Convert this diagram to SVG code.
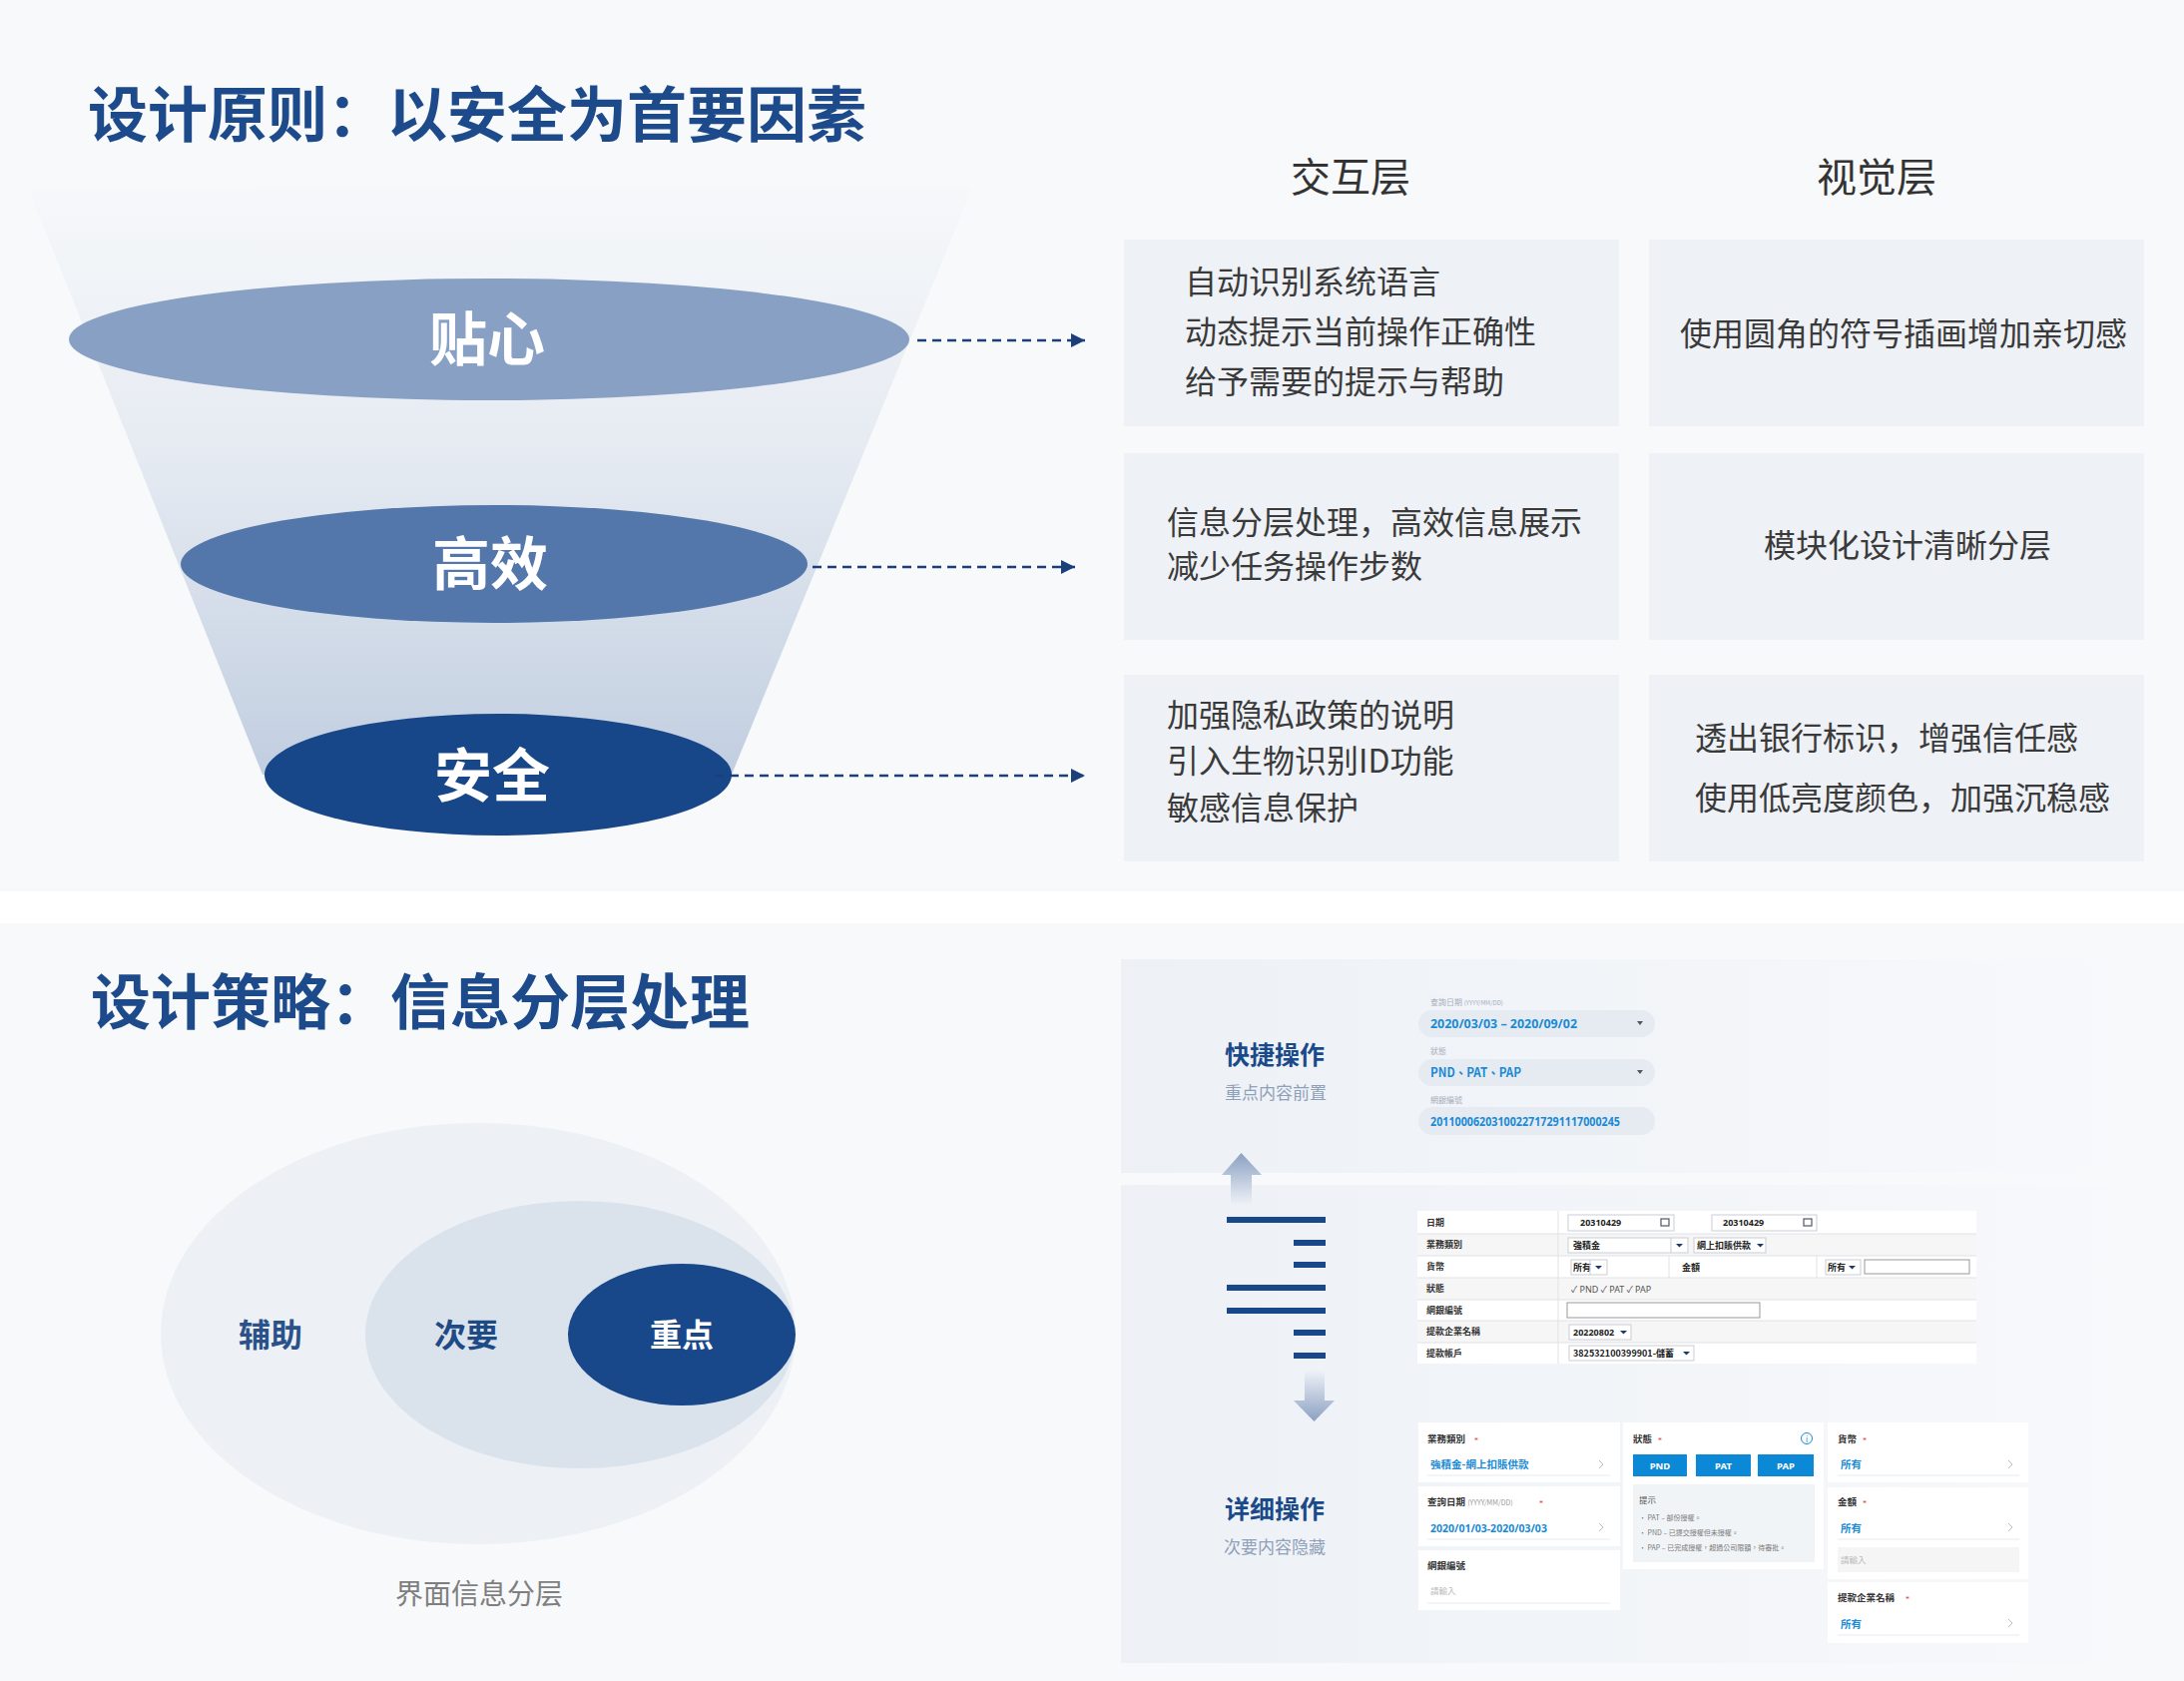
<svg xmlns="http://www.w3.org/2000/svg" width="2188" height="1684" viewBox="0 0 2188 1684">
<defs>
<style>
.cjk{font-family:'Noto Sans CJK SC','Noto Sans',sans-serif}
.tc{font-family:'Noto Sans CJK TC','Noto Sans',sans-serif}
.lat{font-family:'Noto Sans','Noto Sans CJK TC',sans-serif}
.title{font-size:60px;font-weight:700;fill:#1c4a8b}
.hdr{font-size:40px;fill:#333}
.bt{font-size:32px;fill:#3a3a3a}
.el{font-size:58px;font-weight:700;fill:#fff;text-anchor:middle}
.lab{font-size:32px;font-weight:700;text-anchor:middle}
.side1{font-size:25px;font-weight:700;fill:#1a4a8a;text-anchor:middle}
.side2{font-size:17px;fill:#8fa0b8;text-anchor:middle}
.flab{font-size:8px;fill:#a6aebb}
.fval{font-size:13px;font-weight:700;fill:#1a8ad4}
.tl{font-size:9px;font-weight:700;fill:#333}
.tv{font-size:9px;font-weight:700;fill:#222}
.cl{font-size:9.5px;font-weight:700;fill:#333}
.cv{font-size:10.5px;font-weight:700;fill:#1a8ad4}
.ph{font-size:8.5px;fill:#bbb}
.star{font-size:8px;fill:#e03030}
.chev{fill:none;stroke:#bbb;stroke-width:1}
.uline{stroke:#e6ebf1;stroke-width:1}
.card{fill:#fff}
.bar{fill:#18478a}
.dash{stroke:#1a3f7a;stroke-width:2.5;stroke-dasharray:9 6;fill:none}
.box{fill:#eef1f6}
.tri{fill:#1a3a6a}
.ibox{fill:#fff;stroke:#c9cdd3;stroke-width:1}
</style>
<linearGradient id="funnelG" gradientUnits="userSpaceOnUse" x1="0" y1="186" x2="0" y2="776">
<stop offset="0" stop-color="#f6f8fa"/>
<stop offset="0.45" stop-color="#e6ebf2"/>
<stop offset="1" stop-color="#c1cee0"/>
</linearGradient>
<linearGradient id="bandG" x1="0" y1="0" x2="1" y2="0">
<stop offset="0" stop-color="#edf1f6"/>
<stop offset="0.75" stop-color="#f5f7fa"/>
<stop offset="1" stop-color="#f7f9fb"/>
</linearGradient>
<linearGradient id="upG" gradientUnits="userSpaceOnUse" x1="0" y1="1155" x2="0" y2="1207">
<stop offset="0" stop-color="#8ba0c2"/>
<stop offset="1" stop-color="#eef2f7"/>
</linearGradient>
<linearGradient id="downG" gradientUnits="userSpaceOnUse" x1="0" y1="1373" x2="0" y2="1424">
<stop offset="0" stop-color="#eef2f7"/>
<stop offset="1" stop-color="#8ba0c2"/>
</linearGradient>
<marker id="arr" markerUnits="userSpaceOnUse" markerWidth="16" markerHeight="16" refX="14" refY="7" orient="auto">
<path d="M0,0 L14,7 L0,14 z" fill="#1a3f7a"/>
</marker>
</defs>

<rect x="0" y="0" width="2188" height="1684" fill="#ffffff"/>
<rect x="0" y="0" width="2188" height="893" fill="#f7f9fb"/>
<rect x="0" y="925" width="2188" height="759" fill="#f7f9fb"/>

<g id="title-principle">
<text class="cjk title" x="88" y="137">设计原则：以安全为首要因素</text>
</g>

<g id="funnel">
<polygon points="28,188 975,186 733,776 263,776" fill="url(#funnelG)"/>
</g>

<g id="node-tiexin">
<ellipse cx="490" cy="340" rx="421" ry="61" fill="#87a0c3"/>
<text class="cjk el" x="488" y="361">贴心</text>
</g>
<g id="node-gaoxiao">
<ellipse cx="495" cy="565" rx="314" ry="59" fill="#5377aa"/>
<text class="cjk el" x="491" y="586">高效</text>
</g>
<g id="node-anquan">
<ellipse cx="499" cy="776" rx="234" ry="61" fill="#184789"/>
<text class="cjk el" x="493" y="798">安全</text>
</g>

<g id="headers">
<text class="cjk hdr" x="1353" y="192" text-anchor="middle">交互层</text>
<text class="cjk hdr" x="1880" y="192" text-anchor="middle">视觉层</text>
</g>

<g id="box-i1">
<rect class="box" x="1126" y="240" width="496" height="187"/>
<text class="cjk bt" x="1187" y="294">自动识别系统语言</text>
<text class="cjk bt" x="1187" y="344">动态提示当前操作正确性</text>
<text class="cjk bt" x="1187" y="394">给予需要的提示与帮助</text>
</g>
<g id="box-v1">
<rect class="box" x="1652" y="240" width="496" height="187"/>
<text class="cjk bt" x="1907" y="346" text-anchor="middle">使用圆角的符号插画增加亲切感</text>
</g>
<g id="box-i2">
<rect class="box" x="1126" y="454" width="496" height="187"/>
<text class="cjk bt" x="1169" y="535">信息分层处理，高效信息展示</text>
<text class="cjk bt" x="1169" y="579">减少任务操作步数</text>
</g>
<g id="box-v2">
<rect class="box" x="1652" y="454" width="496" height="187"/>
<text class="cjk bt" x="1911" y="558" text-anchor="middle">模块化设计清晰分层</text>
</g>
<g id="box-i3">
<rect class="box" x="1126" y="676" width="496" height="187"/>
<text class="cjk bt" x="1169" y="728">加强隐私政策的说明</text>
<text class="cjk bt" x="1169" y="774">引入生物识别ID功能</text>
<text class="cjk bt" x="1169" y="821">敏感信息保护</text>
</g>
<g id="box-v3">
<rect class="box" x="1652" y="676" width="496" height="187"/>
<text class="cjk bt" x="1698" y="751">透出银行标识，增强信任感</text>
<text class="cjk bt" x="1698" y="811">使用低亮度颜色，加强沉稳感</text>
</g>

<g id="title-strategy">
<text class="cjk title" x="91" y="1026">设计策略：信息分层处理</text>
</g>

<g id="node-fuzhu">
<ellipse cx="479" cy="1336" rx="318" ry="211" fill="#edf1f6"/>
<text class="cjk lab" x="271" y="1349" fill="#2b5288">辅助</text>
</g>
<g id="node-ciyao">
<ellipse cx="581" cy="1337" rx="215" ry="134" fill="#dae2ec"/>
<text class="cjk lab" x="467" y="1349" fill="#1e4a85">次要</text>
</g>
<g id="node-zhongdian">
<ellipse cx="683" cy="1337" rx="114" ry="71" fill="#18478a"/>
<text class="cjk lab" x="683" y="1349" fill="#ffffff">重点</text>
</g>
<g id="caption">
<text class="cjk" x="480" y="1607" font-size="28" fill="#7f7f7f" text-anchor="middle">界面信息分层</text>
</g>

<g id="band-quick">
<rect x="1123" y="961" width="1065" height="214" fill="url(#bandG)"/>
<text class="cjk side1" x="1277" y="1066">快捷操作</text>
<text class="cjk side2" x="1278" y="1101">重点内容前置</text>
<text class="tc flab" x="1433" y="1007">查詢日期 <tspan font-size="6">(YYYY/MM/DD)</tspan></text>
<rect x="1421" y="1012" width="237" height="27" rx="13.5" fill="#e6ebf2"/>
<text class="lat fval" x="1433" y="1030" textLength="147" lengthAdjust="spacingAndGlyphs">2020/03/03 – 2020/09/02</text>
<path d="M1640,1023 L1646,1023 L1643,1027 z" fill="#555"/>
<text class="tc flab" x="1433" y="1056">狀態</text>
<rect x="1421" y="1061" width="237" height="27" rx="13.5" fill="#e6ebf2"/>
<text class="tc fval" x="1433" y="1079" textLength="91" lengthAdjust="spacingAndGlyphs">PND、PAT、PAP</text>
<path d="M1640,1072 L1646,1072 L1643,1076 z" fill="#555"/>
<text class="tc flab" x="1433" y="1105">網銀編號</text>
<rect x="1421" y="1109" width="237" height="28" rx="14" fill="#e6ebf2"/>
<text class="lat fval" x="1433" y="1128" font-size="12" textLength="190" lengthAdjust="spacingAndGlyphs">2011000620310022717291117000245</text>
</g>

<g id="band-layers">
<rect x="1123" y="1187" width="1065" height="216" fill="url(#bandG)"/>
<rect class="bar" x="1229" y="1219" width="99" height="6"/>
<rect class="bar" x="1296" y="1242" width="32" height="6"/>
<rect class="bar" x="1296" y="1264" width="32" height="6"/>
<rect class="bar" x="1229" y="1287" width="99" height="6"/>
<rect class="bar" x="1229" y="1310" width="99" height="6"/>
<rect class="bar" x="1296" y="1332" width="32" height="6"/>
<rect class="bar" x="1296" y="1355" width="32" height="6"/>
</g>

<g id="table-form">
<rect x="1420" y="1213" width="560" height="23" fill="#ffffff"/>
<rect x="1420" y="1236" width="560" height="22" fill="#f6f6f7"/>
<rect x="1420" y="1258" width="560" height="22" fill="#ffffff"/>
<rect x="1420" y="1280" width="560" height="22" fill="#f6f6f7"/>
<rect x="1420" y="1302" width="560" height="21" fill="#ffffff"/>
<rect x="1420" y="1323" width="560" height="22" fill="#f6f6f7"/>
<rect x="1420" y="1345" width="560" height="21" fill="#ffffff"/>
<g stroke="#dfe2e6" stroke-width="1">
<line x1="1420" y1="1236" x2="1980" y2="1236"/>
<line x1="1420" y1="1258" x2="1980" y2="1258"/>
<line x1="1420" y1="1280" x2="1980" y2="1280"/>
<line x1="1420" y1="1302" x2="1980" y2="1302"/>
<line x1="1420" y1="1323" x2="1980" y2="1323"/>
<line x1="1420" y1="1345" x2="1980" y2="1345"/>
<line x1="1561" y1="1213" x2="1561" y2="1366"/>
<line x1="1672" y1="1258" x2="1672" y2="1280"/>
<line x1="1820" y1="1258" x2="1820" y2="1280"/>
</g>
<text class="tc tl" x="1429" y="1228">日期</text>
<text class="tc tl" x="1429" y="1250">業務類別</text>
<text class="tc tl" x="1429" y="1272">貨幣</text>
<text class="tc tl" x="1429" y="1294">狀態</text>
<text class="tc tl" x="1429" y="1316">網銀編號</text>
<text class="tc tl" x="1429" y="1337">提款企業名稱</text>
<text class="tc tl" x="1429" y="1359">提款帳戶</text>
<rect class="ibox" x="1571" y="1217" width="106" height="16"/>
<text class="lat tv" x="1583" y="1228">20310429</text>
<rect x="1664" y="1221" width="8" height="7" fill="none" stroke="#556" stroke-width="1.2"/>
<rect class="ibox" x="1715" y="1217" width="105" height="16"/>
<text class="lat tv" x="1726" y="1228">20310429</text>
<rect x="1807" y="1221" width="8" height="7" fill="none" stroke="#556" stroke-width="1.2"/>
<rect class="ibox" x="1571" y="1240" width="120" height="15"/>
<line x1="1674" y1="1240" x2="1674" y2="1255" stroke="#c9cdd3"/>
<text class="tc tv" x="1576" y="1251">強積金</text>
<path class="tri" d="M1679,1246 L1686,1246 L1682.5,1249.5 z"/>
<rect class="ibox" x="1697" y="1240" width="72" height="15"/>
<text class="tc tv" x="1700" y="1251">網上扣賬供款</text>
<path class="tri" d="M1760,1246 L1767,1246 L1763.5,1249.5 z"/>
<rect class="ibox" x="1574" y="1262" width="36" height="15"/>
<text class="tc tv" x="1576" y="1273">所有</text>
<line x1="1593" y1="1262" x2="1593" y2="1277" stroke="#c9cdd3"/>
<path class="tri" d="M1598,1268 L1605,1268 L1601.5,1271.5 z"/>
<text class="tc tv" x="1685" y="1273">金額</text>
<rect class="ibox" x="1829" y="1262" width="35" height="15"/>
<text class="tc tv" x="1831" y="1273">所有</text>
<path class="tri" d="M1852,1268 L1859,1268 L1855.5,1271.5 z"/>
<rect x="1868" y="1262" width="105" height="14" fill="#fff" stroke="#999" stroke-width="1"/>
<text class="lat" x="1574" y="1295" font-size="9" fill="#555">✓ PND  ✓ PAT  ✓ PAP</text>
<rect x="1570" y="1305" width="193" height="15" fill="#fff" stroke="#999" stroke-width="1"/>
<rect class="ibox" x="1572" y="1327" width="62" height="15"/>
<text class="lat tv" x="1576" y="1338">20220802</text>
<path class="tri" d="M1623,1333 L1630,1333 L1626.5,1336.5 z"/>
<rect class="ibox" x="1572" y="1348" width="125" height="15"/>
<text class="tc tv" x="1576" y="1359">382532100399901-儲蓄</text>
<path class="tri" d="M1686,1354 L1693,1354 L1689.5,1357.5 z"/>
</g>

<g id="band-detail">
<rect x="1123" y="1403" width="1065" height="263" fill="url(#bandG)"/>
<text class="cjk side1" x="1277" y="1521">详细操作</text>
<text class="cjk side2" x="1277" y="1556">次要内容隐藏</text>
</g>

<g id="cards-col1">
<rect class="card" x="1421" y="1425" width="202" height="60"/>
<text class="tc cl" x="1430" y="1445">業務類別</text>
<text class="star" x="1477" y="1446">*</text>
<text class="tc cv" x="1433" y="1471">強積金-網上扣賬供款</text>
<path class="chev" d="M1602,1463 L1606,1467 L1602,1471"/>
<line class="uline" x1="1430" y1="1478" x2="1613" y2="1478"/>
<rect class="card" x="1421" y="1489" width="202" height="60"/>
<text class="tc cl" x="1430" y="1508">查詢日期 <tspan font-size="7" font-weight="400" fill="#999">(YYYY/MM/DD)</tspan></text>
<text class="star" x="1542" y="1509">*</text>
<text class="lat cv" x="1433" y="1535">2020/01/03-2020/03/03</text>
<path class="chev" d="M1602,1526 L1606,1530 L1602,1534"/>
<line class="uline" x1="1430" y1="1542" x2="1613" y2="1542"/>
<rect class="card" x="1421" y="1553" width="202" height="60"/>
<text class="tc cl" x="1430" y="1572">網銀編號</text>
<text class="tc ph" x="1433" y="1597">請輸入</text>
<line class="uline" x1="1430" y1="1606" x2="1613" y2="1606"/>
</g>

<g id="cards-col2">
<rect class="card" x="1626" y="1425" width="201" height="147"/>
<text class="tc cl" x="1636" y="1445">狀態</text>
<text class="star" x="1661" y="1446">*</text>
<circle cx="1810" cy="1441" r="5.5" fill="none" stroke="#1a8ad4" stroke-width="1"/>
<text x="1810" y="1444.5" font-family="'Noto Sans',sans-serif" font-size="8" fill="#1a8ad4" text-anchor="middle">i</text>
<rect x="1636" y="1457" width="54" height="22" fill="#0b89d6"/>
<rect x="1699" y="1457" width="55" height="22" fill="#0b89d6"/>
<rect x="1761" y="1457" width="56" height="22" fill="#0b89d6"/>
<text class="lat" x="1663" y="1472" font-size="9.5" font-weight="700" fill="#fff" text-anchor="middle">PND</text>
<text class="lat" x="1726.5" y="1472" font-size="9.5" font-weight="700" fill="#fff" text-anchor="middle">PAT</text>
<text class="lat" x="1789" y="1472" font-size="9.5" font-weight="700" fill="#fff" text-anchor="middle">PAP</text>
<rect x="1636" y="1487" width="182" height="78" fill="#f1f4f7"/>
<text class="tc" x="1642" y="1506" font-size="8.5" fill="#555">提示</text>
<text class="tc" x="1642" y="1523" font-size="7" fill="#777">• PAT – 部份授權。</text>
<text class="tc" x="1642" y="1538" font-size="7" fill="#777">• PND – 已提交授權但未授權。</text>
<text class="tc" x="1642" y="1553" font-size="7" fill="#777">• PAP – 已完成授權，超過公司限額，待審批。</text>
</g>

<g id="cards-col3">
<rect class="card" x="1831" y="1425" width="201" height="60"/>
<text class="tc cl" x="1841" y="1445">貨幣</text>
<text class="star" x="1866" y="1446">*</text>
<text class="tc cv" x="1844" y="1471">所有</text>
<path class="chev" d="M2012,1463 L2016,1467 L2012,1471"/>
<line class="uline" x1="1841" y1="1478" x2="2023" y2="1478"/>
<rect class="card" x="1831" y="1490" width="201" height="92"/>
<text class="tc cl" x="1841" y="1508">金額</text>
<text class="star" x="1866" y="1509">*</text>
<text class="tc cv" x="1844" y="1535">所有</text>
<path class="chev" d="M2012,1526 L2016,1530 L2012,1534"/>
<line class="uline" x1="1841" y1="1542" x2="2023" y2="1542"/>
<rect x="1841" y="1550" width="182" height="25" fill="#f5f5f6"/>
<text class="tc ph" x="1844" y="1566">請輸入</text>
<rect class="card" x="1831" y="1585" width="201" height="61"/>
<text class="tc cl" x="1841" y="1604">提款企業名稱</text>
<text class="star" x="1909" y="1605">*</text>
<text class="tc cv" x="1844" y="1631">所有</text>
<path class="chev" d="M2012,1622 L2016,1626 L2012,1630"/>
<line class="uline" x1="1841" y1="1638" x2="2023" y2="1638"/>
</g>

<g id="connectors">
<line class="dash" x1="919" y1="341" x2="1087" y2="341" marker-end="url(#arr)"/>
<line class="dash" x1="814" y1="568" x2="1077" y2="568" marker-end="url(#arr)"/>
<line class="dash" x1="716" y1="777" x2="1087" y2="777" marker-end="url(#arr)"/>
<polygon id="arrow-up" points="1224,1177 1243.5,1155 1264,1177 1254,1177 1254,1207 1233,1207 1233,1177" fill="url(#upG)"/>
<polygon id="arrow-down" points="1307,1373 1327,1373 1327,1403 1337,1403 1316.5,1424 1296,1403 1307,1403" fill="url(#downG)"/>
</g>
</svg>
